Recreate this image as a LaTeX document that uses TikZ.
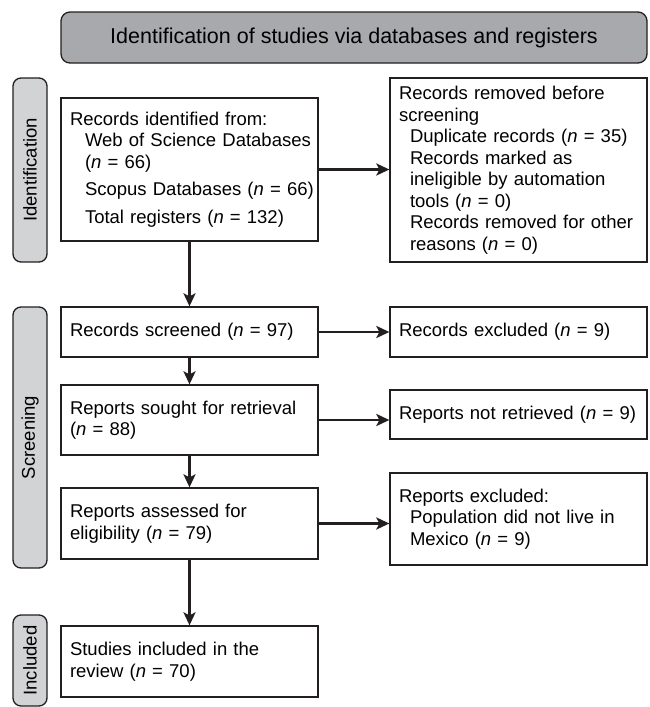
\documentclass[tikz,border=0pt]{standalone}
\usepackage{fontspec}
\setmainfont{Liberation Sans}
\usetikzlibrary{arrows.meta}

\definecolor{titlegray}{HTML}{A7A9AC}
\definecolor{sidegray}{HTML}{D1D3D4}
\definecolor{edgegray}{HTML}{231F20}

\newcommand{\ncount}[1]{(\textit{n} = #1)}

\begin{document}
\begin{tikzpicture}[x=1pt, y=-1pt,
    box/.style={draw=edgegray, line width=1.3pt, fill=white, minimum width=257pt,
        inner xsep=9pt, inner ysep=0pt, text width=239pt, align=left,
        font=\fontsize{18.5}{21.5}\selectfont},
    sidebox/.style={draw=edgegray, line width=1.3pt, fill=sidegray, rounded corners=8pt,
        minimum width=34pt, inner sep=0pt, font=\fontsize{18.5}{21.5}\selectfont},
    arr/.style={draw=edgegray, line width=2.8pt, -{Stealth[length=13pt, width=12pt, inset=3pt]}}]
    % image from (0,0) to (649,707), y going down

    \useasboundingbox (0,0) rectangle (649,707);

    % Title bar
    \node[draw=edgegray, line width=1.3pt, fill=titlegray, rounded corners=9pt,
        minimum width=586pt, minimum height=51pt, font=\fontsize{21.5}{24}\selectfont]
        (title) at (354,37.5) {Identification of studies via databases and registers};

    % Phase labels on the left
    \node[sidebox, minimum height=184pt] (sideid) at (30,170) {};
    \node[rotate=90, font=\fontsize{18.5}{21.5}\selectfont] (sideidtext) at (sideid.center) {Identification};
    \node[sidebox, minimum height=261pt] (sidescr) at (30,437.5) {};
    \node[rotate=90, font=\fontsize{18.5}{21.5}\selectfont] (sidescrtext) at (sidescr.center) {Screening};
    \node[sidebox, minimum height=91pt] (sideinc) at (30,660.5) {};
    \node[rotate=90, font=\fontsize{18.5}{21.5}\selectfont] (sideinctext) at (sideinc.center) {Included};

    % Left column
    \node[box, minimum height=143pt] (ident) at (189.5,169.5) {Records identified from:\\
        \hspace*{15pt}\mbox{Web of Science Databases}\\
        \hspace*{15pt}\mbox{\ncount{66}}\\[6pt]
        \hspace*{15pt}\mbox{Scopus Databases \ncount{66}}\\[6pt]
        \hspace*{15pt}\mbox{Total registers \ncount{132}}};
    \node[box, minimum height=50pt] (screened) at (189.5,332) {Records screened \ncount{97}};
    \node[box, minimum height=70pt] (sought) at (189.5,420) {Reports sought for retrieval\\ \ncount{88}};
    \node[box, minimum height=71pt] (assessed) at (189.5,523.5) {Reports assessed for\\ eligibility \ncount{79}};
    \node[box, minimum height=71pt] (included) at (189.5,661.5) {Studies included in the\\ review \ncount{70}};

    % Right column
    \node[box, minimum height=184pt] (removed) at (518.5,170) {Records removed before\\ screening\\
        \hspace*{11pt}Duplicate records \ncount{35}\\
        \hspace*{11pt}Records marked as\\
        \hspace*{11pt}ineligible by automation\\
        \hspace*{11pt}tools \ncount{0}\\
        \hspace*{11pt}\mbox{Records removed for other}\\
        \hspace*{11pt}reasons \ncount{0}};
    \node[box, minimum height=50pt] (excluded) at (518.5,332) {Records excluded \ncount{9}};
    \node[box, minimum height=49pt] (notretr) at (518.5,414.5) {Reports not retrieved \ncount{9}};
    \node[box, minimum height=92pt] (repexcl) at (518.5,519) {Reports excluded:\\
        \hspace*{11pt}Population did not live in\\
        \hspace*{11pt}Mexico \ncount{9}};

    % Arrows down
    \draw[arr] (ident) -- (screened);
    \draw[arr] (screened) -- (sought);
    \draw[arr] (sought) -- (assessed);
    \draw[arr] (assessed) -- (included);

    % Arrows to the right
    \draw[arr] (ident.east) -- (ident.east -| removed.west);
    \draw[arr] (screened.east) -- (screened.east -| excluded.west);
    \draw[arr] (sought.east) -- (sought.east -| notretr.west);
    \draw[arr] (assessed.east) -- (assessed.east -| repexcl.west);
\end{tikzpicture}
\end{document}
